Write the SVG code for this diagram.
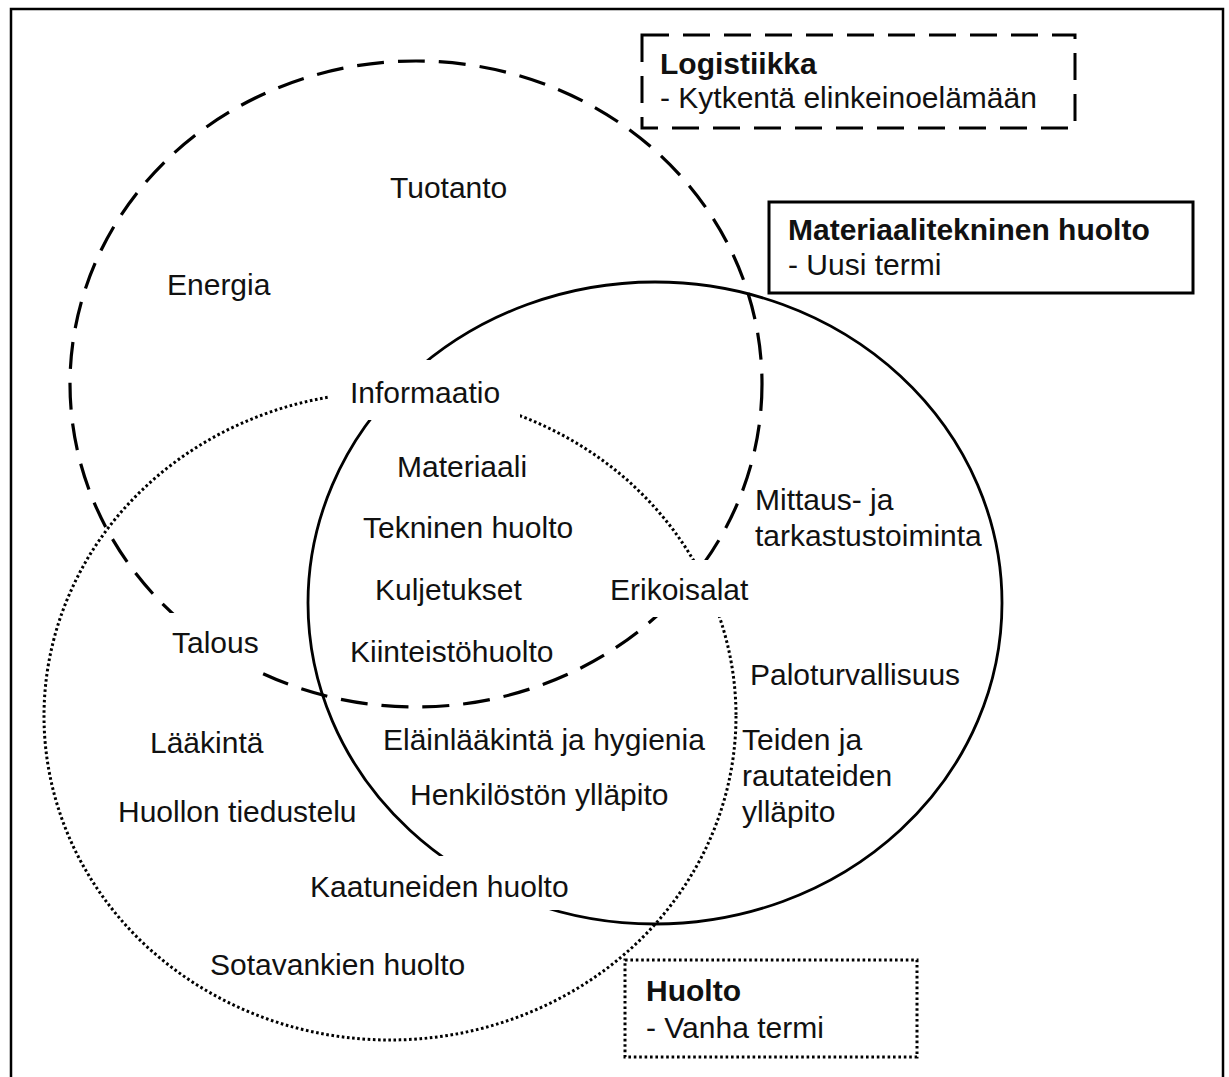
<svg xmlns="http://www.w3.org/2000/svg" width="1229" height="1077" viewBox="0 0 1229 1077">
  <style>
    text { font-family: "Liberation Sans", Arial, sans-serif; font-size: 30px; fill: #111; }
    .b { font-weight: bold; }
    .ring { fill: none; stroke: #000; }
    .dash { stroke-width: 3.2; stroke-dasharray: 27 14; }
    .solid { stroke-width: 2.8; }
    .dot { stroke-width: 3; stroke-dasharray: 2.6 2.6; }
    .mask { fill: #fff; stroke: none; }
    .box { fill: #fff; stroke: #000; stroke-width: 3; }
  </style>

  <!-- outer frame -->
  <rect x="11" y="9" width="1212" height="1090" fill="#fff" stroke="#000" stroke-width="2.5"/>

  <!-- the three overlapping areas -->
  <g id="areas">
    <ellipse id="area-logistiikka" class="ring dash" cx="416" cy="384" rx="346" ry="323"/>
    <ellipse id="area-materiaalitekninen" class="ring solid" cx="655" cy="603" rx="347" ry="321"/>
    <ellipse id="area-huolto" class="ring dot" cx="390" cy="716" rx="346" ry="324"/>
  </g>

  <!-- white label backgrounds that break the outlines -->
  <g id="label-backgrounds">
    <rect class="mask" x="330" y="360" width="190" height="60"/>
    <rect class="mask" x="598" y="560" width="160" height="57"/>
    <rect class="mask" x="162" y="613" width="102" height="58"/>
    <rect class="mask" x="302" y="856" width="262" height="54"/>
  </g>

  <g id="labels">
    <g id="n-tuotanto"><text x="390" y="198">Tuotanto</text></g>
    <g id="n-energia"><text x="167" y="295">Energia</text></g>
    <g id="n-informaatio"><text x="350" y="403">Informaatio</text></g>
    <g id="n-materiaali"><text x="397" y="477">Materiaali</text></g>
    <g id="n-tekninen"><text x="363" y="538">Tekninen huolto</text></g>
    <g id="n-kuljetukset"><text x="375" y="600">Kuljetukset</text></g>
    <g id="n-kiinteisto"><text x="350" y="662">Kiinteistöhuolto</text></g>
    <g id="n-talous"><text x="172" y="653">Talous</text></g>
    <g id="n-erikoisalat"><text x="610" y="600">Erikoisalat</text></g>
    <g id="n-mittaus"><text x="755" y="510">Mittaus- ja</text><text x="755" y="546">tarkastustoiminta</text></g>
    <g id="n-palo"><text x="750" y="685">Paloturvallisuus</text></g>
    <g id="n-teiden"><text x="742" y="750">Teiden ja</text><text x="742" y="786">rautateiden</text><text x="742" y="822">ylläpito</text></g>
    <g id="n-elain"><text x="383" y="750">Eläinlääkintä ja hygienia</text></g>
    <g id="n-henkilosto"><text x="410" y="805">Henkilöstön ylläpito</text></g>
    <g id="n-laakinta"><text x="150" y="753">Lääkintä</text></g>
    <g id="n-tiedustelu"><text x="118" y="822">Huollon tiedustelu</text></g>
    <g id="n-kaatuneet"><text x="310" y="897">Kaatuneiden huolto</text></g>
    <g id="n-sotavangit"><text x="210" y="975">Sotavankien huolto</text></g>
  </g>

  <!-- legend boxes -->
  <g id="legend-logistiikka">
    <rect class="box" x="642" y="35" width="433" height="93" stroke-dasharray="27 14"/>
    <text class="b" x="660" y="74">Logistiikka</text>
    <text x="660" y="108">- Kytkentä elinkeinoelämään</text>
  </g>
  <g id="legend-materiaalitekninen">
    <rect class="box" x="769" y="202" width="424" height="91"/>
    <text class="b" x="788" y="240">Materiaalitekninen huolto</text>
    <text x="788" y="275">- Uusi termi</text>
  </g>
  <g id="legend-huolto">
    <rect class="box" x="625" y="960" width="292" height="97" stroke-dasharray="2.6 2.8"/>
    <text class="b" x="646" y="1001">Huolto</text>
    <text x="646" y="1038">- Vanha termi</text>
  </g>
</svg>
